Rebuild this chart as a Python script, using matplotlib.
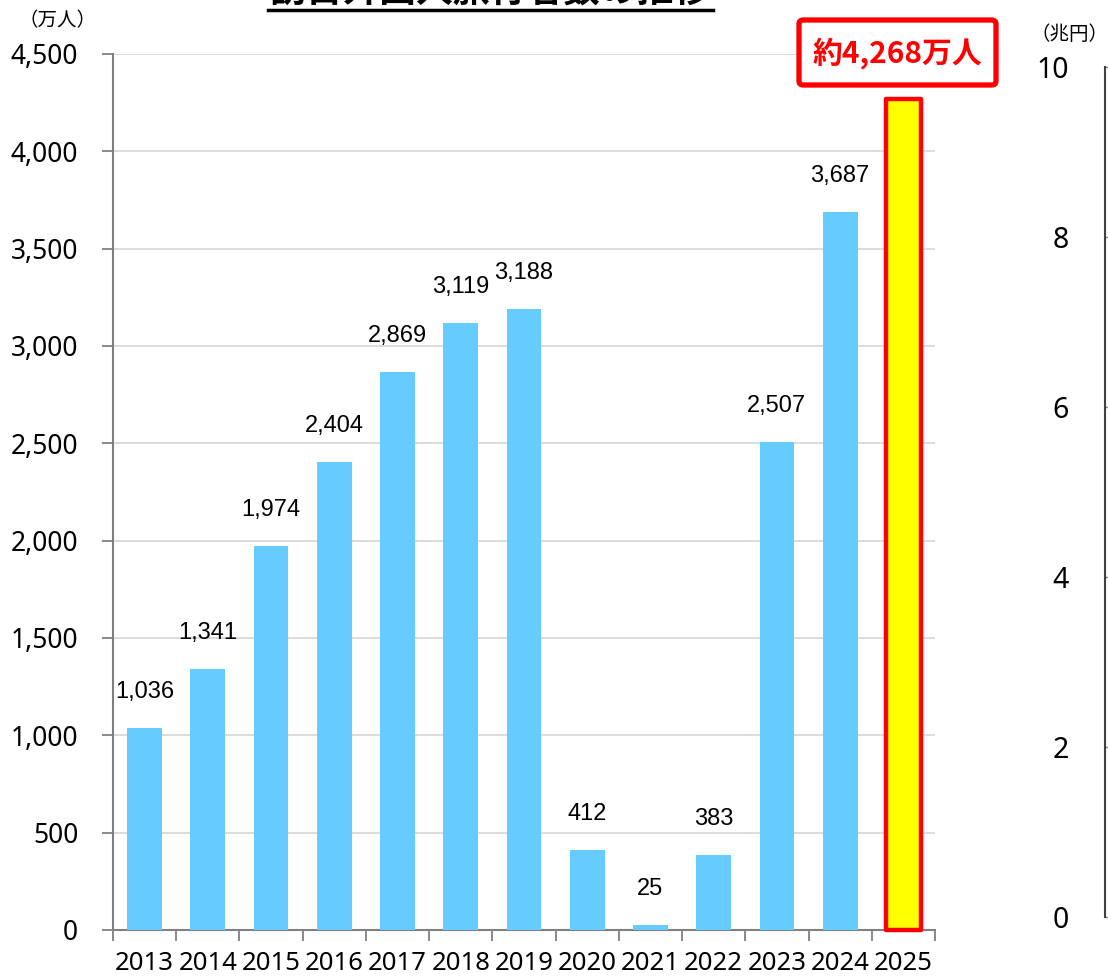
import matplotlib.pyplot as plt
from matplotlib.patches import FancyBboxPatch
import numpy as np

plt.rcParams['font.family'] = ['Noto Sans', 'Noto Sans CJK JP']

years = ['2013', '2014', '2015', '2016', '2017', '2018', '2019',
         '2020', '2021', '2022', '2023', '2024', '2025']
visitors = [1036, 1341, 1974, 2404, 2869, 3119, 3188, 412, 25, 383, 2507, 3687, 4268]
label_2025 = '約4,268万人'
right_ticks = [0, 2, 4, 6, 8, 10]

W, H = 1108, 977
fig = plt.figure(figsize=(W / 100, H / 100), dpi=100)

# main chart
ax = fig.add_axes([113 / W, 1 - 930 / H, 822 / W, 876 / H])
x = np.arange(len(years))
colors = ['#66CCFF'] * (len(years) - 1) + ['#FFFF00']
bars = ax.bar(x, visitors, width=0.55, color=colors, zorder=3)
last = bars[-1]
last.set_edgecolor('#FF0000')
last.set_linewidth(3.2)
last.set_joinstyle('round')
last.set_zorder(4)
last.set_clip_on(False)

for xi, v in zip(x[:-1], visitors[:-1]):
    ax.annotate(f'{v:,}', (xi, v), xytext=(0, 18), textcoords='offset points',
                ha='center', va='bottom', fontsize=17, family='Liberation Sans')

ax.set_xlim(-0.5, len(years) - 0.5)
ax.set_ylim(0, 4500)
ax.set_yticks(np.arange(0, 4501, 500))
ax.set_yticklabels([f'{t:,}' for t in range(0, 4501, 500)])
ax.yaxis.grid(True, color='#D9D9D9', linewidth=1.3, zorder=0)
ax.set_axisbelow(True)

ax.set_xticks(np.arange(-0.5, len(years), 1.0))
ax.set_xticklabels([])
ax.set_xticks(x, minor=True)
ax.set_xticklabels(years, minor=True)
ax.tick_params(axis='x', which='major', length=8, width=1.3, color='#808080')
ax.tick_params(axis='x', which='minor', length=0, pad=15, labelsize=18.5)
ax.tick_params(axis='y', length=8, width=1.3, color='#808080', pad=17, labelsize=19)

for s in ['top', 'right']:
    ax.spines[s].set_visible(False)
for s in ['left', 'bottom']:
    ax.spines[s].set_color('#808080')
    ax.spines[s].set_linewidth(1.5)

fig.text(18 / W, 1 - 21 / H, '（万人）', fontsize=14, family='Noto Sans CJK JP',
         ha='left', va='center')

# title (cropped at top)
fig.text(490 / W, 1 - 3 / H, '訪日外国人旅行者数の推移', fontsize=26.5, fontweight='bold',
         family='Noto Sans CJK JP', ha='center', va='baseline')
fig.add_artist(plt.Line2D([268 / W, 713 / W], [1 - 10 / H, 1 - 10 / H],
                          color='black', linewidth=2.5, transform=fig.transFigure))

# callout box for 2025
fig.add_artist(FancyBboxPatch((799 / W, 1 - 85 / H), 197 / W, 65 / H,
                              boxstyle='round,pad=0,rounding_size=0.004',
                              facecolor='white', edgecolor='#FF0000', linewidth=3.8,
                              transform=fig.transFigure, zorder=5))
fig.text(897 / W, 1 - 53 / H, label_2025, fontsize=21.5, fontweight='bold',
         color='#FF0000', family='Noto Sans CJK JP', ha='center', va='center', zorder=6)

# right-hand chart axis (cropped)
ax2 = fig.add_axes([1105 / W, 1 - 917 / H, 0.05, 850 / H])
ax2.set_ylim(0, 10)
ax2.set_yticks(right_ticks)
ax2.set_yticklabels([str(t) for t in right_ticks])
ax2.set_xticks([])
ax2.tick_params(axis='y', direction='in', length=4, width=1, color='#808080',
                pad=26, labelsize=20.5)
for s in ['top', 'right', 'bottom']:
    ax2.spines[s].set_visible(False)
ax2.spines['left'].set_color('#404040')
ax2.spines['left'].set_linewidth(1.5)
ax2.patch.set_alpha(0)

fig.text(1031 / W, 1 - 35 / H, '（兆円）', fontsize=14, family='Noto Sans CJK JP',
         ha='left', va='center')

fig.savefig('out.png', dpi=100)
